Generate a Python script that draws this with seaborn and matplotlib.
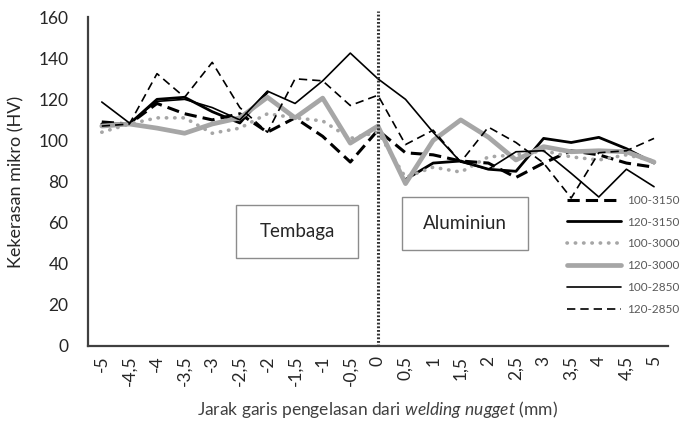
import numpy as np
import pandas as pd
import matplotlib
matplotlib.use("Agg")
import matplotlib.pyplot as plt
import matplotlib.patches as mpatches
import seaborn as sns

sns.set_theme(style="white")
plt.rcParams['font.family'] = ['Lato', 'DejaVu Sans']
plt.rcParams['mathtext.fontset'] = 'custom'
plt.rcParams['mathtext.rm'] = 'Lato'
plt.rcParams['mathtext.it'] = 'Lato:italic'

nan = np.nan
x_labels = ["-5", "-4,5", "-4", "-3,5", "-3", "-2,5", "-2", "-1,5", "-1", "-0,5", "0",
            "0,5", "1", "1,5", "2", "2,5", "3", "3,5", "4", "4,5", "5"]

s100_3150 = [109, 108, 118, 113, 110, 113, 104, 111, 102, 89.5, 105,
             94, 93, 90, 89, 82, 89, 95, 93, 89, 87]
s120_3150 = [108, 108, 120, 121, 114, 108.5, 123.5, nan, nan, nan, nan,
             81, 89, 90, 86, 85, 101, 99, 101.5, 96, 89]
s100_3000 = [104, 108, 111, 111, 103.5, 106, 113, 111, 109.5, 101, 104,
             82, 87, 84.6, 92, 93, 95, 92, 90.5, 93, 90]
s120_3000 = [107, 108, 106, 103.5, 108, 111, 121, 111, 120.6, 98.7, 107,
             79, 100, 110, 101.6, 90.5, 97, 94.5, 95, 94.5, 89.5]
s100_2850 = [118.7, 108.5, 119, 120, 116, 110, 124, 118, 129, 142.5, 130,
             120, 104, 89.5, 86, 94.5, 95, 84, 72.5, 86, 77.5]
s120_2850 = [107, 108, 132.5, 121, 138, 116, 104, 130, 129, 117, 122,
             98, 105, 89.5, 106.5, 99, 89, 72, 94, 95, 101]

series = [
    ("100-3150", s100_3150, dict(color="black", lw=2.2, dashes=(4, 2))),
    ("120-3150", s120_3150, dict(color="black", lw=2.0)),
    ("100-3000", s100_3000, dict(color="#a6a6a6", lw=2.6, dashes=(0.1, 2.2), solid_capstyle="round", dash_capstyle="round")),
    ("120-3000", s120_3000, dict(color="#a6a6a6", lw=3.4)),
    ("100-2850", s100_2850, dict(color="black", lw=1.2)),
    ("120-2850", s120_2850, dict(color="black", lw=1.2, dashes=(5, 3))),
]

fig = plt.figure(figsize=(6.83, 4.26), dpi=100)
ax = fig.add_axes([0.1288, 0.1878, 0.849, 0.772])

pos = np.arange(len(x_labels))
for name, vals, style in series:
    df = pd.DataFrame({"pos": pos, "val": vals})
    # split into contiguous segments so that gaps in data stay gaps
    seg_id = df["val"].isna().cumsum()
    first = True
    for _, seg in df[df["val"].notna()].groupby(seg_id[df["val"].notna()]):
        sns.lineplot(data=seg, x="pos", y="val", ax=ax, label=name if first else None,
                     legend=False, **style)
        first = False

ax.set_xlim(-0.5, len(x_labels) - 0.5)
ax.set_ylim(0, 160)
ax.set_yticks(range(0, 161, 20))
ax.set_xticks(pos)
ax.set_xticklabels(x_labels, rotation=90, fontsize=12.5, color="#262626")
ax.tick_params(axis="y", labelsize=12.5, labelcolor="#262626", length=0, pad=14)
ax.tick_params(axis="x", length=0, pad=7)
for sp in ["top", "right"]:
    ax.spines[sp].set_visible(False)
for sp in ["left", "bottom"]:
    ax.spines[sp].set_color("#404040")
    ax.spines[sp].set_linewidth(1.6)

ax.set_ylabel("Kekerasan mikro (HV)", fontsize=13, color="#262626", labelpad=10)
ax.set_xlabel(r"Jarak garis pengelasan dari $\it{welding\ nugget}$ (mm)",
              fontsize=12.5, color="#404040", labelpad=9)

# vertical dotted separator at 0
ax.axvline(10, ymin=0, ymax=1.02, clip_on=False, color="#333333", lw=2.2,
           linestyle=(0, (0.6, 0.6)))

# region boxes
for (l, t, r, b, txt) in [(236, 205, 358, 258, "Tembaga"), (402, 197, 528, 250, "Aluminiun")]:
    W, H = 683, 426
    rect = mpatches.Rectangle((l / W, 1 - b / H), (r - l) / W, (b - t) / H,
                              transform=fig.transFigure, fill=True, facecolor="white",
                              edgecolor="#8c8c8c", lw=1.0, zorder=5)
    fig.add_artist(rect)
    fig.text((l + r) / 2 / W, 1 - (t + b) / 2 / H, txt, ha="center", va="center",
             fontsize=13.5, color="#262626", zorder=6)

handles, labels = ax.get_legend_handles_labels()
leg = ax.legend(handles, labels, loc="upper left", bbox_to_anchor=(562 / 683, 1 - 190 / 426),
                bbox_transform=fig.transFigure, frameon=False, fontsize=8.5,
                handlelength=4.6, labelspacing=0.92, handletextpad=0.5, borderaxespad=0)
for t in leg.get_texts():
    t.set_color("#595959")

fig.savefig("out.png", dpi=100)
